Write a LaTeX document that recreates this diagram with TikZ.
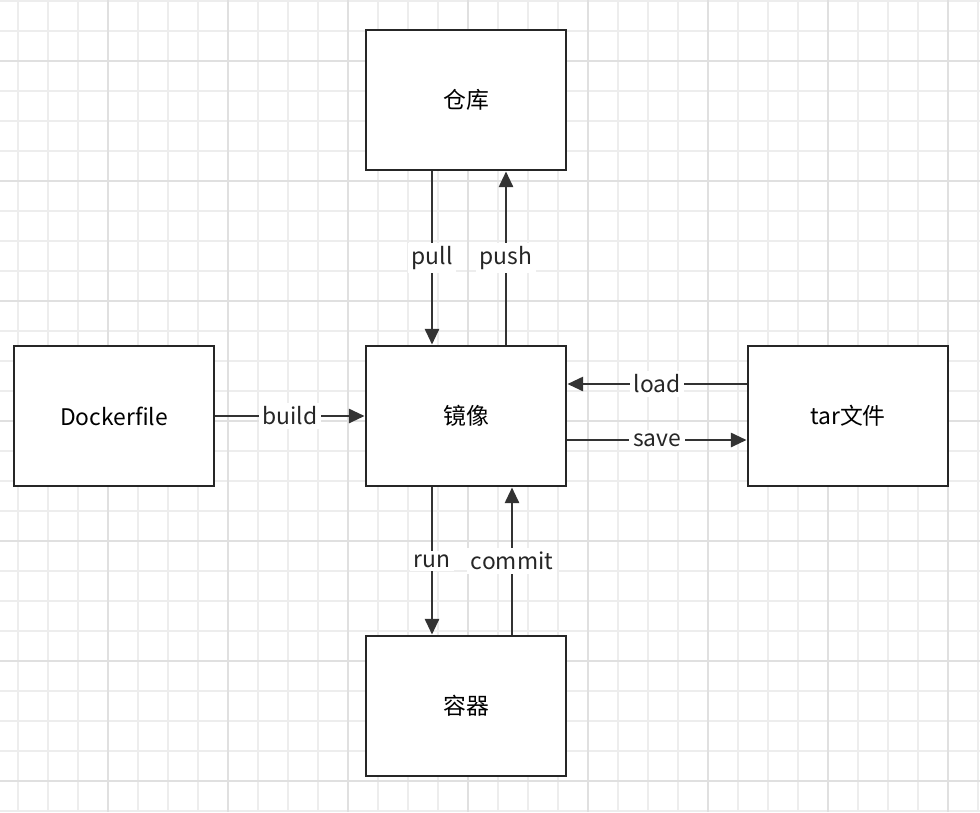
\documentclass[tikz,border=0pt]{standalone}
\usepackage{fontspec}
\setmainfont{Noto Sans CJK SC}
\usetikzlibrary{arrows.meta}
\begin{document}
\begin{tikzpicture}
    [x=0.02cm,y=-0.02cm,
     box/.style={draw=black!85,line width=1.6pt,minimum width=4cm,minimum height=2.8cm,font=\fontsize{13}{15}\selectfont},
     flow/.style={-{Triangle[length=9pt,width=8pt]},line width=1.6pt,draw=black!80},
     lbl/.style={fill=white,inner sep=2pt,font=\fontsize{13}{15}\selectfont,text=black!85}]
    \useasboundingbox (0,0) rectangle (980,812);
    % grid
    \foreach \gx in {18,48,...,978}
      \draw[black!7,line width=0.6pt] (\gx,0) -- (\gx,812);
    \foreach \gy in {1,31,...,811}
      \draw[black!7,line width=0.6pt] (0,\gy) -- (980,\gy);
    \foreach \gx in {108,228,...,978}
      \draw[black!12,line width=0.9pt] (\gx,0) -- (\gx,812);
    \foreach \gy in {61,181,...,811}
      \draw[black!12,line width=0.9pt] (0,\gy) -- (980,\gy);
    % boxes
    \node [box,fill=white] (repo) at (466,100) {仓库};
    \node [box,fill=white] (image) at (466,416) {镜像};
    \node [box,fill=white] (ctr) at (466,706) {容器};
    \node [box,fill=white] (dfile) at (114,416) {Dockerfile};
    \node [box,fill=white] (tar) at (848,416) {tar文件};
    % arrows
    \draw [flow] (repo.south -| 432,0) -- node[lbl] {pull} (image.north -| 432,0);
    \draw [flow] (image.north -| 506,0) -- node[lbl] {push} (repo.south -| 506,0);
    \draw [flow] (dfile.east) -- node[lbl] {build} (image.west);
    \draw [flow] (tar.west |- 0,384) -- node[lbl] {load} (image.east |- 0,384);
    \draw [flow] (image.east |- 0,440) -- node[lbl] {save} (tar.west |- 0,440);
    \draw [flow] (image.south -| 432,0) -- node[lbl] {run} (ctr.north -| 432,0);
    \draw [flow] (ctr.north -| 512,0) -- node[lbl] {commit} (image.south -| 512,0);
\end{tikzpicture}
\end{document}
